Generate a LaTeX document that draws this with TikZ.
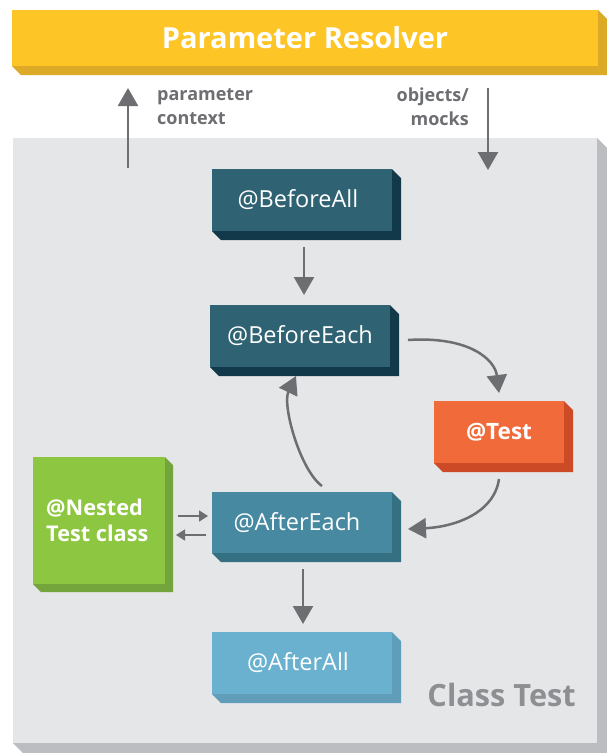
\documentclass[tikz,border=0pt]{standalone}
\usepackage{fontspec}
\setmainfont{Open Sans}
\usetikzlibrary{arrows.meta,calc}

\definecolor{resolver}{HTML}{FDC526}
\definecolor{resolverD}{HTML}{DCAA27}
\definecolor{panelC}{HTML}{E5E6E8}
\definecolor{panelD}{HTML}{BCBDC0}
\definecolor{darkT}{HTML}{2F6272}
\definecolor{darkTD}{HTML}{12394A}
\definecolor{testC}{HTML}{F06A3A}
\definecolor{testD}{HTML}{CC4A26}
\definecolor{midT}{HTML}{4689A0}
\definecolor{midTD}{HTML}{356F82}
\definecolor{nestC}{HTML}{8DC640}
\definecolor{nestD}{HTML}{73A53C}
\definecolor{lightT}{HTML}{6AB1CF}
\definecolor{lightTD}{HTML}{5F9DB8}
\definecolor{arrowC}{HTML}{6D6E71}
\definecolor{titleC}{HTML}{8E8F92}

% right and bottom faces of a raised block
\newcommand\blockdepth[3]{%
  \fill[#3] (#1.north east) -- ++(#2,#2) -- ([shift={(#2pt,-#2pt)}]#1.south east)
    -- ([shift={(#2pt,-#2pt)}]#1.south west) -- (#1.south west) -- (#1.south east) -- cycle;}
% label set slightly left of the block centre
\newcommand\leftish[2]{\hspace*{-#1pt}#2}

\tikzset{
  block/.style={rectangle, outer sep=0pt, inner sep=0pt, text=white,
    font=\fontsize{23.5}{27}\selectfont},
  arr/.style={draw=arrowC, line width=2.5pt, -{Triangle[length=18pt,width=20pt]}},
  smallarr/.style={draw=arrowC, line width=1.5pt, -{Triangle[length=9pt,width=11pt]}},
  note/.style={text=arrowC, font=\fontsize{18}{24}\bfseries\selectfont, inner sep=0pt},
}

\begin{document}
\begin{tikzpicture}[x=1pt,y=-1pt]
\useasboundingbox (0,0) rectangle (607,753);

% resolver banner
\node[block, fill=resolver, minimum width=586pt, minimum height=56pt,
  font=\fontsize{29}{32}\bfseries\selectfont] (banner) at (305,38) {Parameter Resolver};
\blockdepth{banner}{9}{resolverD}

% class panel
\node[rectangle, outer sep=0pt, fill=panelC, minimum width=584pt, minimum height=605pt]
  (panel) at (305,440.5) {};
\blockdepth{panel}{10}{panelD}

% lifecycle blocks
\node[block, fill=darkT, minimum width=180pt, minimum height=62pt] (ba) at (302,200) {\leftish{8}{@BeforeAll}};
\blockdepth{ba}{9}{darkTD}
\node[block, fill=darkT, minimum width=180pt, minimum height=62pt] (be) at (300,336) {@BeforeEach};
\blockdepth{be}{9}{darkTD}
\node[block, fill=testC, minimum width=130pt, minimum height=62pt,
  font=\fontsize{22.5}{26}\bfseries\selectfont] (te) at (499,432) {@Test};
\blockdepth{te}{9}{testD}
\node[block, fill=midT, minimum width=180pt, minimum height=61pt] (ae) at (302,522.5) {\leftish{10}{@AfterEach}};
\blockdepth{ae}{9}{midTD}
\node[block, fill=lightT, minimum width=180pt, minimum height=62pt] (aa) at (302,663) {\leftish{8}{@AfterAll}};
\blockdepth{aa}{9}{lightTD}
\node[block, fill=nestC, minimum width=132pt, minimum height=127pt] (ne) at (99,520.5) {};
\blockdepth{ne}{8}{nestD}
\node[anchor=west, text=white, inner sep=0pt, align=left,
  font=\fontsize{21.7}{26}\bfseries\selectfont] (netext) at (46,520) {@Nested\\Test class};

\node[anchor=east, text=titleC, inner sep=0pt, font=\fontsize{30.7}{33}\bfseries\selectfont]
  (title) at (576,695) {Class Test};

% labels on the resolver arrows
\node[note, anchor=west, align=left] (ctx) at (157,107) {parameter\\context};
\node[note, anchor=east, align=right] (obj) at (469,107) {objects/\\mocks};

% arrows between resolver and class
\draw[arr] ([shift={(115pt,-30pt)}]panel.north west) -- ([shift={(116pt,-22pt)}]banner.south west);
\draw[arr] ([shift={(476pt,-22pt)}]banner.south west) -- ([shift={(475pt,-32pt)}]panel.north west);

% lifecycle flow
\draw[arr, shorten <=16pt, shorten >=10pt] ([xshift=2pt]ba.south) -- ([xshift=2pt]ba.south |- be.north);
\draw[arr] ([shift={(18pt,-4pt)}]be.east) .. controls +(62,-4) and +(-4,-33) .. ([yshift=8pt]te.north);
\draw[arr] ([yshift=-16pt]te.south) .. controls +(-5,35) and +(45,-2) .. ([shift={(16pt,-6.5pt)}]ae.east);
\draw[arr] ([shift={(20pt,6pt)}]ae.north) .. controls +(-22,-16) and +(-14,29) .. ([shift={(-4pt,-9pt)}]be.south);
\draw[arr, shorten <=16pt, shorten >=8pt] ([xshift=1pt]ae.south) -- ([xshift=1pt]ae.south |- aa.north);

% nested class exchange
\draw[smallarr] ([shift={(13pt,4.5pt)}]ne.east) -- ([xshift=-4pt,yshift=4.5pt]ne.east -| ae.west);
\draw[smallarr] ([xshift=-6pt,yshift=-14.5pt]ne.east -| ae.west) -- ([shift={(11pt,-14.5pt)}]ne.east);
\end{tikzpicture}
\end{document}
